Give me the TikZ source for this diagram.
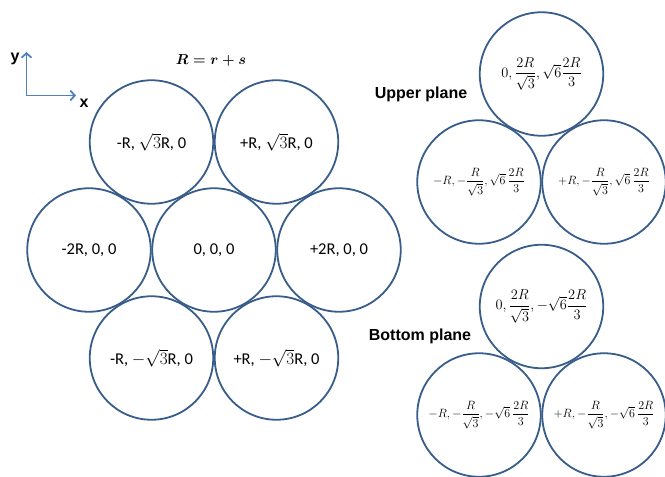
\documentclass[tikz,border=0pt]{standalone}
\usepackage{amsmath,amssymb}
\usepackage[no-math]{fontspec}
\setmainfont{Carlito}
\newfontfamily\headfont{Liberation Sans}
\usetikzlibrary{arrows.meta}
\definecolor{ringblue}{RGB}{56,93,138}
\definecolor{axisblue}{RGB}{79,129,189}

\begin{document}
\begin{tikzpicture}[x=1pt,y=-1pt,>={Straight Barb[length=4.5pt,width=10pt]},
  ball/.style={circle,draw=ringblue,line width=1.8pt,minimum size=123.5pt,inner sep=0pt,
    font=\fontsize{16.5}{19}\selectfont},
  planelabel/.style={font=\headfont\bfseries\fontsize{16}{19}\selectfont},
  bigfrac/.style={font=\fontsize{15}{18}\selectfont},
  smallfrac/.style={font=\fontsize{12.2}{14}\selectfont}]
  \useasboundingbox (0,0) rectangle (665,477);
  % axes
  \coordinate (O) at (26.5,95.5);
  \coordinate (Y) at (26.5,52);
  \coordinate (X) at (76,95.5);
  \draw[axisblue,line width=1.8pt,->] (O)--(Y);
  \draw[axisblue,line width=1.8pt,->] (O)--(X);
  \node[planelabel] (ylab) at (15,59) {y};
  \node[planelabel] (xlab) at (84,103) {x};
  \node[font=\fontsize{15.5}{18}\selectfont] (rel) at (211,60) {$\boldsymbol{R=r+s}$};
  % layer z = 0
  \foreach \n/\x/\y/\t in {c0/214/250/{0, 0, 0},cW/89/250/{-2R, 0, 0},cE/339/250/{+2R, 0, 0},
      cNW/151.5/142/{-R, $\sqrt{3}$R, 0},cNE/276.5/142/{+R, $\sqrt{3}$R, 0},
      cSW/151.5/358/{-R, $-\sqrt{3}$R, 0},cSE/276.5/358/{+R, $-\sqrt{3}$R, 0}}
    {\node[ball] (\n) at (\x,\y) {\t};}
  % upper plane
  \node[planelabel] (up) at (421,94) {Upper plane};
  \node[ball,bigfrac] (u0) at (541.5,74) {$0,\dfrac{2R}{\sqrt{3}},\sqrt{6}\dfrac{2R}{3}$};
  \node[ball,smallfrac] (uL) at (479,182) {$-R,-\dfrac{R}{\sqrt{3}},\sqrt{6}\,\dfrac{2R}{3}$};
  \node[ball,smallfrac] (uR) at (604,182) {$+R,-\dfrac{R}{\sqrt{3}},\sqrt{6}\,\dfrac{2R}{3}$};
  % bottom plane
  \node[planelabel] (bot) at (420,336) {Bottom plane};
  \node[ball,bigfrac] (b0) at (541.5,306.5) {$0,\dfrac{2R}{\sqrt{3}},-\sqrt{6}\dfrac{2R}{3}$};
  \node[ball,smallfrac] (bL) at (479,415) {$-R,-\dfrac{R}{\sqrt{3}},-\sqrt{6}\,\dfrac{2R}{3}$};
  \node[ball,smallfrac] (bR) at (604,415) {$+R,-\dfrac{R}{\sqrt{3}},-\sqrt{6}\,\dfrac{2R}{3}$};
\end{tikzpicture}
\end{document}
